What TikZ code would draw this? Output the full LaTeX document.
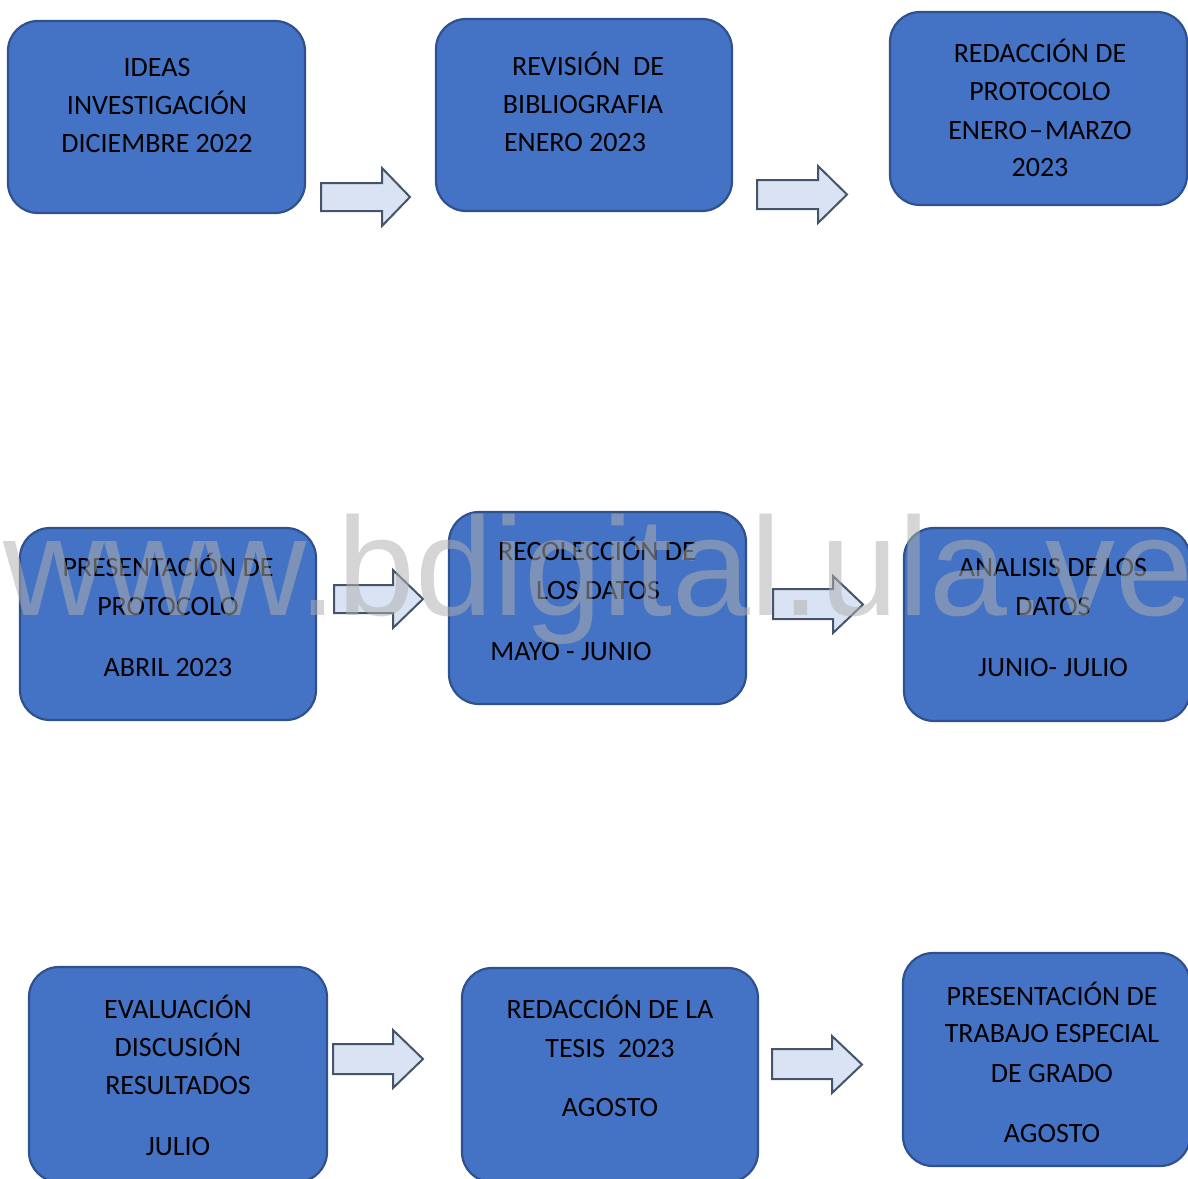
\documentclass[tikz,border=0pt]{standalone}
\usepackage{fontspec}
\setmainfont{Carlito}
\newfontfamily\wmfont{Liberation Sans}
\definecolor{boxfill}{HTML}{4472C4}
\definecolor{boxline}{HTML}{2F528F}
\definecolor{arrfill}{HTML}{DAE3F3}
\definecolor{arrline}{HTML}{44546A}
\definecolor{wmgray}{RGB}{175,175,175}
\tikzset{
  stagebox/.style={draw=boxline, fill=boxfill, line width=1.1pt, rounded corners=15pt, inner sep=0pt},
  txt/.style={anchor=base, inner sep=0pt, font=\fontsize{14}{17}\selectfont, text=black},
  blockarrow/.style={draw=arrline, fill=arrfill, line width=1pt, line join=miter}
}
% \barrow{name}{shaft left}{head base}{tip}{shaft top}{shaft bottom}{head top}{head bottom}
\newcommand{\barrow}[8]{%
  \draw[blockarrow] (#2,#5) -- (#3,#5) -- (#3,#7) -- (#4,{(#7+#8)/2}) -- (#3,#8) -- (#3,#6) -- (#2,#6) -- cycle;
  \coordinate (#1) at (#4,{(#7+#8)/2});
}
\begin{document}
\begin{tikzpicture}[x=0.5pt, y=-0.5pt]
\useasboundingbox (0,0) rectangle (1188,1178);
\clip (0,0) rectangle (1188,1178);

% boxes
\node[stagebox, minimum width=148.5pt, minimum height=96pt] (b1) at (156.5,117) {};
\node[stagebox, minimum width=148pt, minimum height=96pt] (b2) at (584,115) {};
\node[stagebox, minimum width=148.5pt, minimum height=96.5pt] (b3) at (1038.5,108.5) {};
\node[stagebox, minimum width=148pt, minimum height=96pt] (b4) at (168,624) {};
\node[stagebox, minimum width=148.5pt, minimum height=96pt] (b5) at (597.5,608) {};
\node[stagebox, minimum width=143pt, minimum height=96.5pt] (b6) at (1047,624.5) {};
\node[stagebox, minimum width=149pt, minimum height=107.5pt] (b7) at (178,1074.5) {};
\node[stagebox, minimum width=148pt, minimum height=107pt] (b8) at (610,1075) {};
\node[stagebox, minimum width=143.5pt, minimum height=106.5pt] (b9) at (1046.5,1059.5) {};

% arrows
\barrow{a1}{321}{382}{410}{183}{211}{168}{226}
\barrow{a2}{757}{818}{847}{180}{209}{166}{223}
\barrow{a3}{334}{393}{423}{585}{613}{570}{628}
\barrow{a4}{773}{833}{863}{589}{619}{576}{633}
\barrow{a5}{333}{393}{423}{1044}{1074}{1030}{1088}
\barrow{a6}{772}{832}{862}{1049}{1079}{1036}{1093}

% texts
\node[txt] (t1a) at (157,76) {IDEAS};
\node[txt] (t1b) at (157,114) {INVESTIGACIÓN};
\node[txt] (t1c) at (157,152) {DICIEMBRE 2022};

\node[txt] (t2a) at (588,75) {REVISIÓN \ DE};
\node[txt] (t2b) at (583,113) {BIBLIOGRAFIA};
\node[txt] (t2c) at (575,151) {ENERO 2023};

\node[txt] (t3a) at (1040,62) {REDACCIÓN DE};
\node[txt] (t3b) at (1040,100) {PROTOCOLO};
\node[txt] (t3c) at (1040,139) {ENERO\kern1pt–\kern1pt MARZO};
\node[txt] (t3d) at (1040,176) {2023};

\node[txt] (t4a) at (168,576) {PRESENTACIÓN DE};
\node[txt] (t4b) at (168,615) {PROTOCOLO};
\node[txt] (t4c) at (168,676) {ABRIL 2023};

\node[txt] (t5a) at (597,560) {RECOLECCIÓN DE};
\node[txt] (t5b) at (598,599) {LOS DATOS};
\node[txt] (t5c) at (571,660) {MAYO - JUNIO};

\node[txt] (t6a) at (1053,576) {ANALISIS DE LOS};
\node[txt] (t6b) at (1053,615) {DATOS};
\node[txt] (t6c) at (1053,676) {JUNIO- JULIO};

\node[txt] (t7a) at (178,1018) {EVALUACIÓN};
\node[txt] (t7b) at (178,1056) {DISCUSIÓN};
\node[txt] (t7c) at (178,1094) {RESULTADOS};
\node[txt] (t7d) at (178,1155) {JULIO};

\node[txt] (t8a) at (610,1018) {REDACCIÓN DE LA};
\node[txt] (t8b) at (610,1057) {TESIS \ 2023};
\node[txt] (t8c) at (610,1116) {AGOSTO};

\node[txt] (t9a) at (1052,1005) {PRESENTACIÓN DE};
\node[txt] (t9b) at (1052,1042) {TRABAJO ESPECIAL};
\node[txt] (t9c) at (1052,1082) {DE GRADO};
\node[txt] (t9d) at (1052,1142) {AGOSTO};

% watermark
\node[anchor=base west, inner sep=0pt, text=wmgray, text opacity=0.53, font=\wmfont\fontsize{70}{80}\selectfont] (wm) at (3,615) {www.bdigital.ula.ve};
\end{tikzpicture}
\end{document}
